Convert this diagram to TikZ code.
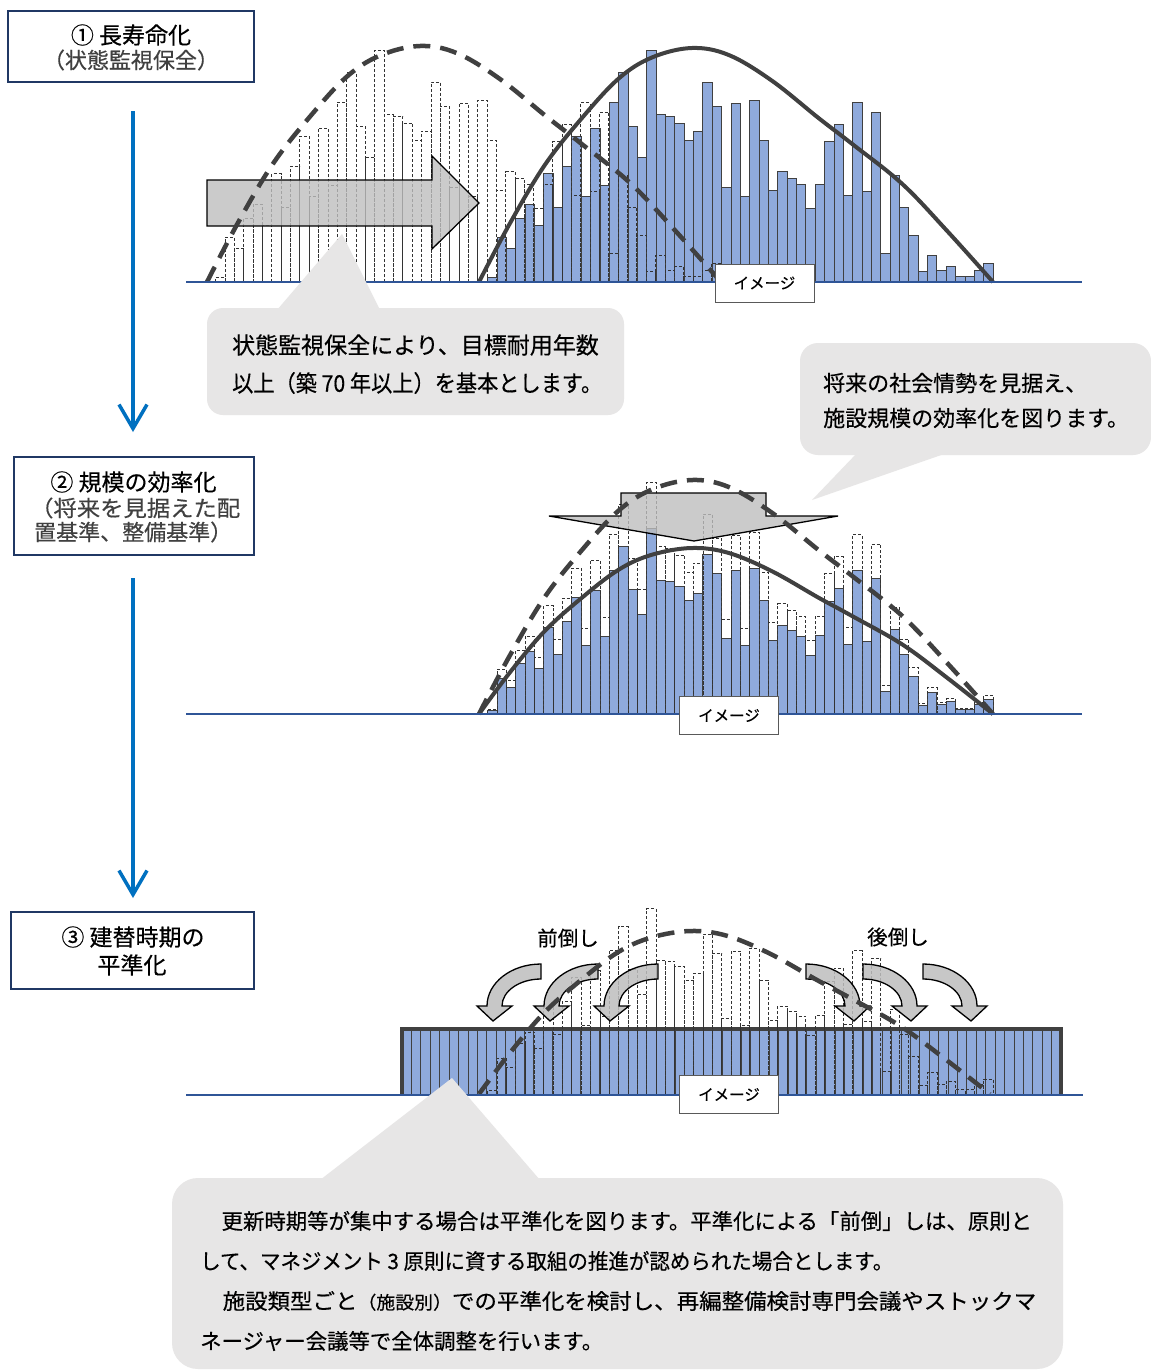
\documentclass[tikz,border=0pt]{standalone}
\usepackage{fontspec}
\setmainfont{Noto Sans CJK JP}[FakeBold=0.4]
\usepackage{graphicx}
\usetikzlibrary{arrows.meta}
\definecolor{navy}{RGB}{32,56,100}
\definecolor{arrowblue}{RGB}{0,112,192}
\definecolor{barblue}{RGB}{143,170,220}
\definecolor{baseblue}{RGB}{47,85,151}
\definecolor{curvegray}{RGB}{64,64,64}
\definecolor{arrowgray}{RGB}{190,190,190}
\definecolor{calloutgray}{RGB}{231,230,230}
\definecolor{textgray}{RGB}{64,64,64}
\newcommand{\hdata}{4.7,44.9,33.5,63.7,77.7,56.6,108.2,75.0,115.9,145.7,86.1,154.1,96.8,179.9,209.4,155.8,124.6,231.8,167.2,165.8,159.1,142.0,151.1,200.0,175.9,95.1,178.9,85.4,181.9,142.0,91.8,110.2,103.9,97.2,73.4,97.8,140.4,157.5,87.1,179.2,90.8,169.8,28.8,106.2,74.7,46.6,10.7,26.5,12.1,15.4,5.4,5.4,12.1,18.8}
\newcommand{\fitw}[2]{\resizebox{#1}{\height}{#2}}
\newcommand{\drawbell}[5]{\begin{scope}[shift={(#2,#4)},xscale=#3,yscale=#5]
\draw[#1] plot[smooth,tension=0.6] coordinates {(0,0) (.06,-.25) (.128,-.50) (.2,-.70) (.272,-.87) (.337,-.96) (.414,-1) (.486,-.97) (.57,-.86) (.661,-.70) (.726,-.59) (.823,-.42) (.91,-.22) (1,0)};
\end{scope}}
\newcommand{\drawcarrow}[3]{\begin{scope}[shift={(#1,#2)},xscale=#3]
\draw[curvarrow] (0,0) .. controls (-29.8,0) and (-54,18.8) .. (-54,42) -- (-64,42) -- (-48,57) -- (-29,42) -- (-39,42) .. controls (-39,27.1) and (-21.5,15) .. (0,15) -- cycle;
\end{scope}}
\begin{document}
\begin{tikzpicture}[x=1pt,y=-1pt,
  stepbox/.style={draw=navy,line width=1.6pt,fill=white,inner sep=0pt},
  bluebar/.style={fill=barblue,draw=curvegray,line width=0.8pt},
  dashbar/.style={draw=black!80,line width=0.7pt,dash pattern=on 3pt off 2pt},
  dashcurve/.style={draw=curvegray,line width=4.5pt,dash pattern=on 17pt off 10pt},
  solidcurve/.style={draw=curvegray,line width=4pt},
  axisline/.style={draw=baseblue,line width=1.8pt},
  imgbox/.style={draw=black!65,fill=white,line width=1pt,minimum width=99pt,minimum height=38pt,inner sep=0pt,font=\fontsize{15.5}{15.5}\selectfont},
  bigarrow/.style={fill=arrowgray,fill opacity=0.8,draw=black,line width=1.3pt,line join=miter},
  curvarrow/.style={fill=arrowgray,fill opacity=0.85,draw=black,line width=1.3pt},
  callout/.style={fill=calloutgray},
  flowarrow/.style={draw=arrowblue,line width=3.5pt,-{Straight Barb[length=24pt,width=28pt]}},
  txt/.style={inner sep=0pt,anchor=west},
  ctxt/.style={inner sep=0pt},
  f23/.style={font=\fontsize{23}{25}\selectfont},
  f22/.style={font=\fontsize{22}{24}\selectfont},
  f21/.style={font=\fontsize{21.4}{24}\selectfont},
  f20/.style={font=\fontsize{20.5}{22}\selectfont}]
\useasboundingbox (0,0) rectangle (1151,1371);
\fill[white] (0,0) rectangle (1151,1371);

% ---------- top panel ----------
\foreach \h [count=\i from 0] in \hdata {\draw[bluebar] ({487.6+\i*9.36},282) rectangle ++(9.36,-\h);}
\foreach \h [count=\i from 0] in \hdata {\draw[dashbar] ({215.6+\i*9.36},282) rectangle ++(9.36,-\h);}
\draw[bigarrow] (207,180) -- (432,180) -- (432,156) -- (479,203) -- (432,249) -- (432,226) -- (207,226) -- cycle;
\drawbell{dashcurve}{207}{514}{282}{236}
\drawbell{solidcurve}{479}{514}{282}{234}
\draw[axisline] (186,282) -- (1082,282);
\node[imgbox] (i1) at (764.5,283) {イメージ};

% ---------- middle panel ----------
\foreach \h [count=\i from 0] in \hdata {\draw[bluebar] ({487.6+\i*9.36},714) rectangle ++(9.36,{-0.8*\h});}
\foreach \h [count=\i from 0] in \hdata {\draw[dashbar] ({487.6+\i*9.36},714) rectangle ++(9.36,-\h);}
\draw[bigarrow] (621,493) -- (766,493) -- (766,516) -- (838,516) -- (694,541) -- (549,516) -- (621,516) -- cycle;
\drawbell{dashcurve}{479}{514}{714}{234}
\drawbell{solidcurve}{479}{514}{714}{166}
\draw[axisline] (186,714) -- (1082,714);
\node[imgbox] (i2) at (729,715.5) {イメージ};

% ---------- bottom panel ----------
\fill[barblue] (402,1029) rectangle (1061,1094);
\foreach \k in {1,...,69} {\draw[curvegray,line width=0.8pt] ({402+\k*9.414},1029) -- ({402+\k*9.414},1094);}
\draw[curvegray,line width=4pt] (402,1094) -- (402,1029) -- (1061,1029) -- (1061,1094);
\foreach \h [count=\i from 0] in \hdata {\draw[dashbar] ({487.6+\i*9.36},1094) rectangle ++(9.36,{-0.8*\h});}
\drawcarrow{541}{964}{1}
\drawcarrow{598}{964}{1}
\drawcarrow{658}{964}{1}
\drawcarrow{806}{964}{-1}
\drawcarrow{863}{964}{-1}
\drawcarrow{923}{964}{-1}
\drawbell{dashcurve}{479}{511}{1094}{163}
\draw[axisline] (186,1095) -- (1083,1095);
\node[imgbox] (i3) at (729,1094.5) {イメージ};
\node[ctxt,f20] (mae) at (568,938) {前倒し};
\node[ctxt,f20] (ato) at (898,937) {後倒し};

% ---------- step boxes and flow arrows ----------
\node[stepbox,minimum width=246pt,minimum height=71pt] (b1) at (131,46.5) {};
\node[ctxt,f23] (b1a) at (131,35) {① 長寿命化};
\node[ctxt,f22,text=textgray] (b1b) at (131,60) {（状態監視保全）};
\node[stepbox,minimum width=240pt,minimum height=98pt] (b2) at (134,506) {};
\node[ctxt,f23] (b2a) at (133.5,482) {② 規模の効率化};
\node[txt,f22,text=textgray] (b2b) at (30,508) {\fitw{210pt}{（将来を見据えた配}};
\node[txt,f22,text=textgray] (b2c) at (34,532) {置基準、整備基準）};
\node[stepbox,minimum width=243pt,minimum height=77pt] (b3) at (132.5,950.5) {};
\node[ctxt,f23] (b3a) at (133,937) {③ 建替時期の};
\node[ctxt,f23] (b3b) at (132,965) {平準化};
\coordinate (f1s) at (133,111);
\coordinate (f1e) at (133,432);
\coordinate (f2s) at (133,578);
\coordinate (f2e) at (133,898);
\draw[flowarrow] (f1s) -- (f1e);
\draw[flowarrow] (f2s) -- (f2e);

% ---------- callouts ----------
\fill[callout,rounded corners=16pt] (207,308) rectangle (624,415);
\fill[callout] (277,310) -- (380,310) -- (342,234) -- cycle;
\node[txt,f23] (c1a) at (232,345) {状態監視保全により、目標耐用年数};
\node[txt,f23] (c1b) at (232,383) {\fitw{370pt}{以上（築 70 年以上）を基本とします。}};

\fill[callout,rounded corners=18pt] (800,343) rectangle (1151,455);
\fill[callout] (857,453) -- (947,453) -- (812,500) -- cycle;
\node[txt,f22] (c2a) at (823,383) {将来の社会情勢を見据え、};
\node[txt,f22] (c2b) at (823,418) {施設規模の効率化を図ります。};

\fill[callout,rounded corners=26pt] (172,1178) rectangle (1063,1369);
\fill[callout] (320,1180) -- (540,1180) -- (452,1078) -- cycle;
\node[txt,f21] (c3a) at (200,1221) {　更新時期等が集中する場合は平準化を図ります。平準化による「前倒」しは、原則と};
\node[txt,f21] (c3b) at (200,1261) {\fitw{693pt}{して、マネジメント 3 原則に資する取組の推進が認められた場合とします。}};
\node[txt,f21] (c3c) at (200,1301) {\fitw{836pt}{　施設類型ごと{\fontsize{18}{18}\selectfont （施設別）}での平準化を検討し、再編整備検討専門会議やストックマ}};
\node[txt,f21] (c3d) at (200,1341) {ネージャー会議等で全体調整を行います。};
\end{tikzpicture}
\end{document}
